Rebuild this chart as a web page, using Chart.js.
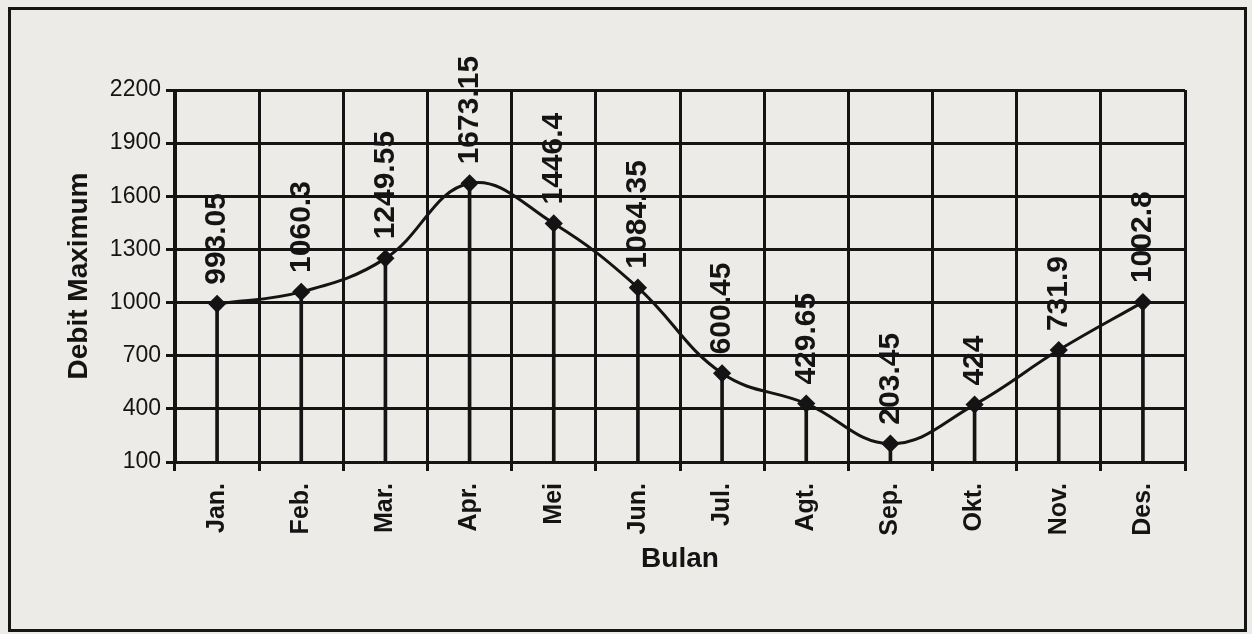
<!DOCTYPE html>
<html>
<head>
<meta charset="utf-8">
<script src="https://cdn.jsdelivr.net/npm/chart.js@4/dist/chart.umd.min.js"></script>
<style>
  html, body { margin: 0; padding: 0; background: #ecebe8; }
  #wrap { position: relative; width: 1252px; height: 634px; }
  #frame { position: absolute; left: 8px; top: 7px; width: 1233px; height: 619px; border: 3px solid #151515; }
  canvas { position: absolute; left: 0; top: 0; }
</style>
</head>
<body>
<div id="wrap">
  <div id="frame"></div>
  <canvas id="chart" width="1252" height="634"></canvas>
</div>
<script>
const months = ["Jan.", "Feb.", "Mar.", "Apr.", "Mei", "Jun.", "Jul.", "Agt.", "Sep.", "Okt.", "Nov.", "Des."];
const debitMax = [993.05, 1060.3, 1249.55, 1673.15, 1446.4, 1084.35, 600.45, 429.65, 203.45, 424, 731.9, 1002.8];
const yMin = 100;
const yMax = 2200;
const yStep = 300;

const ink = "#141414";
const family = "'Liberation Sans', Arial, sans-serif";

// value labels written upright above every marker
const valueLabels = {
  id: "valueLabels",
  afterDatasetsDraw(chart){
    const meta = chart.getDatasetMeta(1);
    const ctx = chart.ctx;
    ctx.save();
    ctx.fillStyle = ink;
    ctx.font = `bold 30px ${family}`;
    ctx.textAlign = "left";
    ctx.textBaseline = "middle";
    meta.data.forEach((pt, i) => {
      ctx.save();
      ctx.translate(pt.x, pt.y - 19);
      ctx.rotate(-Math.PI/2);
      ctx.fillText(String(debitMax[i]), 0, 0);
      ctx.restore();
    });
    ctx.restore();
  }
};

const canvas = document.getElementById("chart");
const chart = new Chart(canvas, {
  data: {
    labels: months,
    datasets: [
      {
        // drop lines from each point to the axis
        type: "bar",
        data: debitMax,
        backgroundColor: ink,
        barThickness: 3,
        order: 2
      },
      {
        type: "line",
        data: debitMax,
        borderColor: ink,
        borderWidth: 3,
        tension: 0.4,
        pointStyle: "rectRot",
        pointRadius: 7,
        pointBackgroundColor: ink,
        pointBorderColor: ink,
        order: 1
      }
    ]
  },
  options: {
    responsive: false,
    animation: false,
    events: [],
    layout: { padding: { left: 50, top: 90, right: 67, bottom: 0 } },
    plugins: { legend: { display: false }, tooltip: { enabled: false } },
    scales: {
      x: {
        type: "category",
        offset: true,
        grid: { offset: true, color: ink, lineWidth: 3, tickLength: 9, drawTicks: true },
        border: { color: ink, width: 3 },
        ticks: {
          color: ink, autoSkip: false, maxRotation: 90, minRotation: 90, padding: 12,
          font: { family, size: 25, weight: "bold" }
        },
        title: {
          display: true, text: "Bulan", color: ink,
          font: { family, size: 28, weight: "bold" },
          padding: { top: 0, bottom: 58 }
        },
        afterFit(scale){ scale.height = 172; }
      },
      y: {
        min: yMin,
        max: yMax,
        grid: { color: ink, lineWidth: 3, tickLength: 9 },
        border: { color: ink, width: 3 },
        ticks: {
          stepSize: yStep, color: ink, padding: 5,
          font: { family, size: 23 },
          callback: v => String(v)
        },
        title: {
          display: true, text: "Debit Maximum", color: ink,
          font: { family, size: 28, weight: "bold" },
          padding: { top: 12, bottom: 0 }
        },
        afterFit(scale){ scale.width = 125; }
      }
    }
  },
  plugins: [valueLabels]
});
</script>
</body>
</html>
